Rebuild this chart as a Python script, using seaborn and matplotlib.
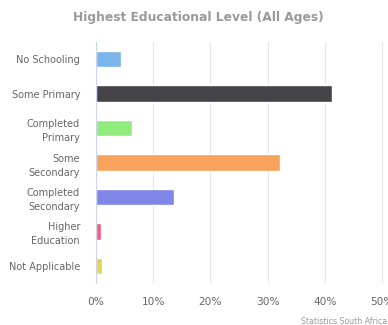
import matplotlib
matplotlib.use("Agg")
import matplotlib.pyplot as plt
import seaborn as sns
import pandas as pd
import numpy as np

categories = ["No Schooling", "Some Primary", "Completed\nPrimary", "Some\nSecondary",
              "Completed\nSecondary", "Higher\nEducation", "Not Applicable"]
values = [4.4, 41.2, 6.3, 32.2, 13.6, 0.8, 1.0]
colors = ["#7cb5ec", "#434348", "#90ed7d", "#f7a35c", "#8085e9", "#f15c80", "#e4d354"]
xticks = [0, 10, 20, 30, 40, 50]
xticklabels = ["0%", "10%", "20%", "30%", "40%", "50%"]

sns.set_theme(style="white")
plt.rcParams['font.family'] = ['DejaVu Sans']

df = pd.DataFrame({"cat": categories, "val": values})

W, H = 388, 325
fig = plt.figure(figsize=(W / 100, H / 100), dpi=100)
left, right, top, bottom = 96, 388, 42, 283
ax = fig.add_axes([left / W, 1 - bottom / H, (right - left) / W, (bottom - top) / H])

sns.barplot(data=df, y="cat", x="val", hue="cat", palette=colors, legend=False,
            width=0.48, ax=ax, saturation=1, orient="h")

px_per_unit = 5.72
ax.set_xlim(0, (right - left) / px_per_unit)
ax.set_ylim(len(categories) - 0.5, -0.5)
ax.set_xticks(xticks)
ax.set_xticklabels(xticklabels, fontsize=7.6, color="#666666")
ax.set_yticks(range(len(categories)))
ax.set_yticklabels(categories, fontsize=7.0, color="#666666", linespacing=1.5)
ax.set_yticks(np.arange(-0.5, len(categories)), minor=True)
ax.tick_params(axis="y", which="major", length=0, pad=11.5)
ax.tick_params(axis="y", which="minor", length=7, width=0.8, color="#ccd6eb", direction="out")
ax.tick_params(axis="x", which="major", length=0, pad=10)
ax.set_xlabel("")
ax.set_ylabel("")
ax.grid(axis="x", color="#e6e6e6", linewidth=0.8)
ax.set_axisbelow(True)
for s in ["top", "right", "bottom"]:
    ax.spines[s].set_visible(False)
ax.spines["left"].set_color("#ccd6eb")
ax.spines["left"].set_linewidth(0.8)

fig.text(0.51, 1 - 17 / H, "Highest Educational Level (All Ages)", ha="center", va="center",
         fontsize=8.8, fontweight="bold", color="#999999")
fig.text(387 / W, 1 - 321 / H, "Statistics South Africa", ha="right", va="center",
         fontsize=5.6, color="#999999")

fig.savefig("out.png", dpi=100, facecolor="white")
